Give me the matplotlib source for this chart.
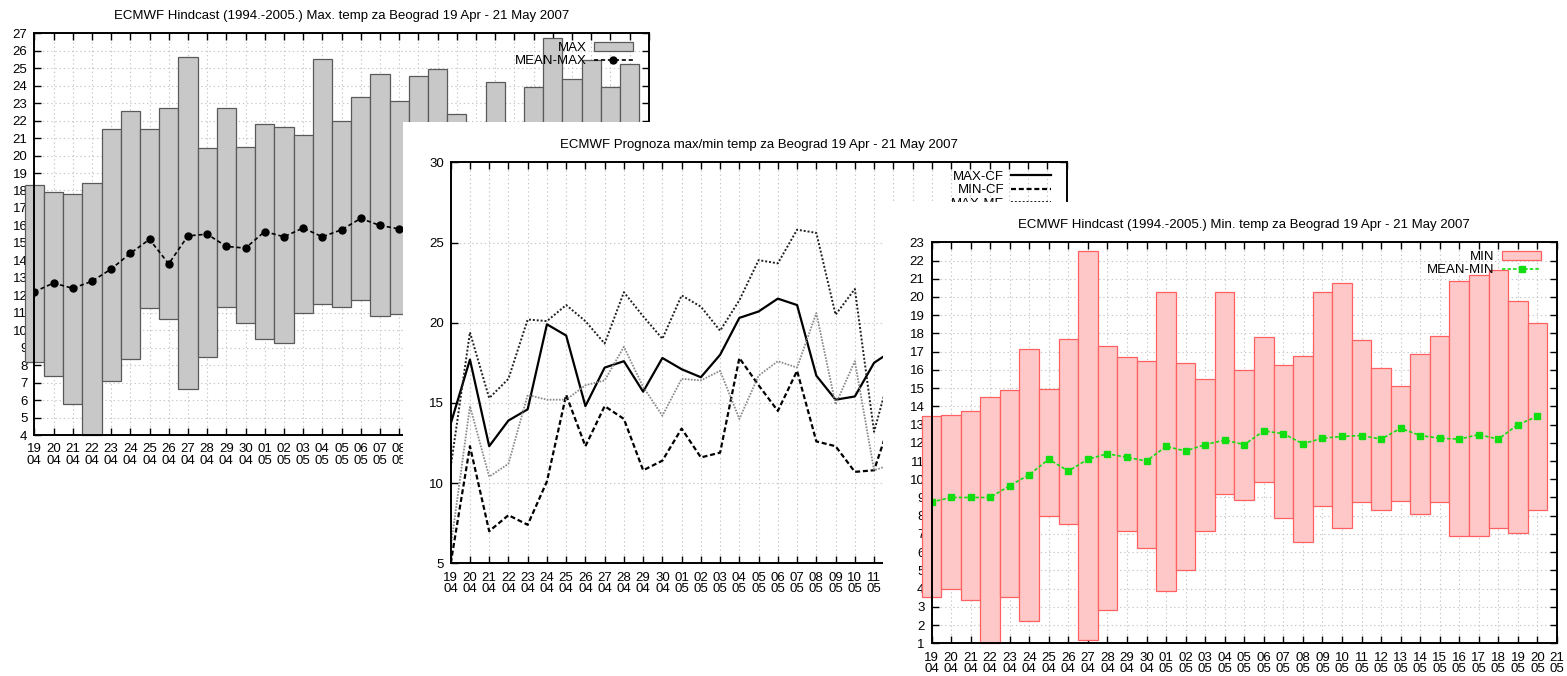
import matplotlib
matplotlib.use("Agg")
import matplotlib.pyplot as plt
from matplotlib.patches import Rectangle
import numpy as np

plt.rcParams['font.family'] = ['Liberation Sans', 'DejaVu Sans']
plt.rcParams['lines.scale_dashes'] = False

W, H = 1567, 676

day_labels = ["19\n04", "20\n04", "21\n04", "22\n04", "23\n04", "24\n04", "25\n04",
              "26\n04", "27\n04", "28\n04", "29\n04", "30\n04", "01\n05", "02\n05",
              "03\n05", "04\n05", "05\n05", "06\n05", "07\n05", "08\n05", "09\n05",
              "10\n05", "11\n05", "12\n05", "13\n05", "14\n05", "15\n05", "16\n05",
              "17\n05", "18\n05", "19\n05", "20\n05", "21\n05"]

# hindcast max temperature (left window)
max_top = [18.3, 17.9, 17.8, 18.45, 21.5, 22.55, 21.5, 22.7, 25.65, 20.45, 22.75, 20.5,
           21.8, 21.65, 21.2, 25.5, 21.95, 23.35, 24.65, 23.15, 24.55, 24.95, 22.4, 20.8,
           24.2, 21.1, 23.9, 26.75, 24.4, 25.45, 23.9, 25.25]
max_bottom = [8.2, 7.35, 5.75, 4.0, 7.1, 8.35, 11.3, 10.65, 6.65, 8.45, 11.35, 10.4,
              9.5, 9.25, 11.0, 11.5, 11.35, 11.75, 10.8, 10.95, 11.2, 11.6, 12.0, 11.4,
              11.9, 12.3, 11.7, 12.4, 12.1, 12.6, 12.2, 12.8]
mean_max = [12.2, 12.7, 12.4, 12.8, 13.5, 14.4, 15.2, 13.8, 15.4, 15.5, 14.8, 14.7,
            15.65, 15.35, 15.85, 15.35, 15.75, 16.4, 16.0, 15.8, 16.1, 16.3, 16.2, 16.5,
            16.7, 16.6, 16.9, 17.1, 16.8, 17.2, 17.3, 17.5]

# forecast (middle window)
max_cf = [13.7, 17.7, 12.3, 13.9, 14.6, 19.9, 19.2, 14.8, 17.2, 17.6, 15.7, 17.8,
          17.1, 16.6, 18.0, 20.3, 20.7, 21.5, 21.1, 16.7, 15.2, 15.4, 17.5, 18.3]
min_cf = [5.0, 12.3, 7.0, 8.0, 7.4, 10.1, 15.5, 12.3, 14.8, 14.0, 10.8, 11.4,
          13.4, 11.6, 11.9, 17.8, 16.1, 14.5, 17.0, 12.6, 12.3, 10.7, 10.8, 14.4]
max_me = [11.0, 19.4, 15.3, 16.5, 20.2, 20.1, 21.1, 20.1, 18.7, 21.9, 20.4, 19.0,
          21.7, 21.0, 19.5, 21.4, 23.9, 23.7, 25.8, 25.6, 20.5, 22.1, 13.2, 17.6]
min_me = [6.0, 14.8, 10.4, 11.2, 15.5, 15.2, 15.2, 16.1, 16.4, 18.5, 16.0, 14.2,
          16.5, 16.4, 17.0, 14.0, 16.7, 17.6, 17.2, 20.6, 14.9, 17.6, 10.8, 11.2]

# hindcast min temperature (right window)
min_top = [13.45, 13.5, 13.75, 14.5, 14.9, 17.15, 14.95, 17.7, 22.55, 17.3, 16.7, 16.5,
           20.25, 16.4, 15.5, 20.3, 16.0, 17.8, 16.25, 16.75, 20.3, 20.75, 17.65, 16.1,
           15.1, 16.85, 17.85, 20.9, 21.2, 21.5, 19.8, 18.55]
min_bottom = [3.55, 4.0, 3.35, 1.0, 3.55, 2.2, 8.0, 7.55, 1.2, 2.85, 7.15, 6.25,
              3.85, 5.0, 7.15, 9.2, 8.85, 9.85, 7.9, 6.55, 8.55, 7.3, 8.75, 8.3,
              8.8, 8.1, 8.75, 6.9, 6.9, 7.35, 7.05, 8.3]
mean_min = [8.75, 9.0, 9.0, 9.0, 9.65, 10.25, 11.1, 10.45, 11.1, 11.4, 11.2, 11.0,
            11.8, 11.55, 11.9, 12.15, 11.9, 12.65, 12.5, 11.95, 12.25, 12.35, 12.4, 12.2,
            12.8, 12.4, 12.25, 12.2, 12.45, 12.2, 13.0, 13.45]

FS = 9.5


def place(x0, y0, x1, y1, z):
    ax = fig.add_axes([x0 / W, 1 - y1 / H, (x1 - x0) / W, (y1 - y0) / H])
    ax.set_zorder(z)
    return ax, x1 - x0, y1 - y0


def style(ax, ylo, yhi, ystep):
    ax.set_xlim(0, len(day_labels) - 1)
    ax.set_ylim(ylo, yhi)
    ax.set_xticks(np.arange(len(day_labels)))
    ax.set_xticklabels(day_labels, linespacing=0.95)
    ax.set_yticks(np.arange(ylo, yhi + 0.5, ystep))
    ax.tick_params(direction='in', length=5, width=1, top=True, right=True,
                   labelsize=FS, pad=5.0)
    ax.tick_params(axis='x', pad=6.0)
    ax.grid(True, color='#c8c8c8', linestyle=(0, (1, 2)), linewidth=0.8)
    ax.set_axisbelow(True)
    for s in ax.spines.values():
        s.set_linewidth(1.4)


def window(x0, y0, z):
    r = Rectangle((x0 / W, 0), 1 - x0 / W, 1 - y0 / H, transform=fig.transFigure,
                  facecolor='white', edgecolor='none', zorder=z)
    fig.add_artist(r)


def legend(ax, handles, labels, wpx, hpx, dx=15.5, dy=8.5):
    ax.legend(handles, labels, loc='upper right',
              bbox_to_anchor=(1 - dx / wpx, 1 - dy / hpx),
              borderaxespad=0, borderpad=0, frameon=False, markerfirst=False,
              handlelength=3.0, handletextpad=0.55, labelspacing=0.08, fontsize=FS)


fig = plt.figure(figsize=(W / 100, H / 100), dpi=100)
x = np.arange(len(max_top))

# left window
ax1, w1, h1 = place(34.3, 33.3, 648.7, 435, 1)
style(ax1, 4, 27, 1)
b1 = ax1.bar(x, np.subtract(max_top, max_bottom), bottom=max_bottom, width=1,
             color='#c8c8c8', edgecolor='#5a5a5a', linewidth=0.9, clip_on=False)
l1, = ax1.plot(x, mean_max, color='black', linestyle=(0, (3, 2)), linewidth=1.2,
               marker='o', markersize=5)
legend(ax1, [b1, l1], ['MAX', 'MEAN-MAX'], w1, h1)
ax1.set_title('ECMWF Hindcast (1994.-2005.) Max. temp za Beograd 19 Apr - 21 May 2007',
              fontsize=FS, pad=10.5)

# middle window
window(403, 122, 2)
ax2, w2, h2 = place(450.7, 162.3, 1066.5, 563.3, 3)
style(ax2, 5, 30, 5)
xm = np.arange(len(max_cf))
m1, = ax2.plot(xm, max_cf, color='black', linewidth=1.6)
m2, = ax2.plot(xm, min_cf, color='black', linewidth=1.6, linestyle=(0, (3.6, 2)))
m3, = ax2.plot(xm, max_me, color='#202020', linewidth=1.4, linestyle=(0, (1.4, 1.4)))
m4, = ax2.plot(xm, min_me, color='#8a8a8a', linewidth=1.3, linestyle=(0, (1.2, 1.0)))
legend(ax2, [m1, m2, m3, m4], ['MAX-CF', 'MIN-CF', 'MAX-ME', 'MIN-ME'], w2, h2)
ax2.set_title('ECMWF Prognoza max/min temp za Beograd 19 Apr - 21 May 2007',
              fontsize=FS, pad=10.5)

# right window
window(883, 202, 4)
ax3, w3, h3 = place(931.5, 242.3, 1557, 643.3, 5)
style(ax3, 1, 23, 1)
b3 = ax3.bar(x, np.subtract(min_top, min_bottom), bottom=min_bottom, width=1,
             color='#ffc8c8', edgecolor='#ff6060', linewidth=0.9, clip_on=False)
l3, = ax3.plot(x, mean_min, color='#11dd11', linestyle=(0, (2.5, 1.5)), linewidth=1.2,
               marker='s', markersize=5)
legend(ax3, [b3, l3], ['MIN', 'MEAN-MIN'], w3, h3)
ax3.set_title('ECMWF Hindcast (1994.-2005.) Min. temp za Beograd 19 Apr - 21 May 2007',
              fontsize=FS, pad=10.5)

fig.savefig('out.png', dpi=100)
